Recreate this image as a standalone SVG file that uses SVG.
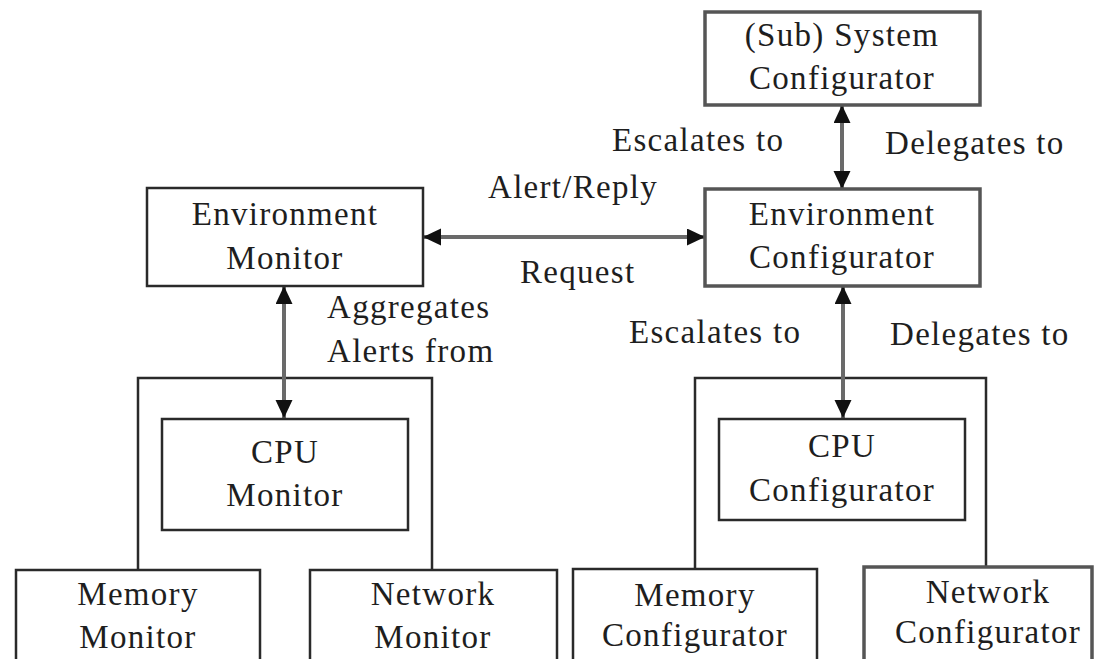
<svg xmlns="http://www.w3.org/2000/svg" width="1097" height="659" viewBox="0 0 1097 659">
  <style>
    .box { fill: #ffffff; stroke: #2a2a2a; stroke-width: 2.5; }
    .box.gray { stroke: #555555; stroke-width: 3.5; }
    .frame { fill: none; stroke: #2a2a2a; stroke-width: 2.5; }
    .link { fill: none; stroke: #6a6a6a; stroke-width: 4; marker-start: url(#head); marker-end: url(#head); }
    text { font-family: "Liberation Serif", "Times New Roman", serif; font-size: 33px; fill: #1e1e1e; letter-spacing: 1.3px; }
    .c { text-anchor: middle; }
  </style>
  <defs>
    <marker id="head" markerUnits="userSpaceOnUse" markerWidth="19" markerHeight="18" refX="18" refY="8.5" orient="auto-start-reverse">
      <path d="M0,0 L18,8.5 L0,17 Z" fill="#111111"/>
    </marker>
  </defs>
  <rect width="1097" height="659" fill="#ffffff"/>

  <!-- grouping frames around the per-resource components -->
  <g id="frames">
    <path class="frame" d="M138,570 V378 H432 V570"/>
    <path class="frame" d="M695,569 V378 H986 V567"/>
  </g>

  <g id="connectors">
    <line class="link" x1="423" y1="237" x2="705" y2="237"/>
    <line class="link" x1="842" y1="105" x2="842" y2="189"/>
    <line class="link" x1="284" y1="286" x2="284" y2="418"/>
    <line class="link" x1="843" y1="286" x2="843" y2="418"/>
    <text x="488" y="198">Alert/Reply</text>
    <text x="520" y="283">Request</text>
    <text x="612" y="151">Escalates to</text>
    <text x="885" y="154">Delegates to</text>
    <text x="327" y="318">Aggregates</text>
    <text x="327" y="362">Alerts from</text>
    <text x="629" y="343">Escalates to</text>
    <text x="890" y="345">Delegates to</text>
  </g>

  <g id="subsystem-configurator">
    <rect class="box gray" x="705" y="12" width="275" height="93"/>
    <text class="c" x="842" y="46">(Sub) System</text>
    <text class="c" x="842" y="89">Configurator</text>
  </g>

  <g id="environment-monitor">
    <rect class="box" x="147" y="188" width="276" height="98"/>
    <text class="c" x="285" y="225">Environment</text>
    <text class="c" x="285" y="269">Monitor</text>
  </g>

  <g id="environment-configurator">
    <rect class="box gray" x="705" y="189" width="275" height="97"/>
    <text class="c" x="842" y="225">Environment</text>
    <text class="c" x="842" y="268">Configurator</text>
  </g>

  <g id="cpu-monitor">
    <rect class="box" x="162" y="419" width="246" height="111"/>
    <text class="c" x="285" y="463">CPU</text>
    <text class="c" x="285" y="506">Monitor</text>
  </g>

  <g id="cpu-configurator">
    <rect class="box" x="719" y="419" width="246" height="101"/>
    <text class="c" x="842" y="457">CPU</text>
    <text class="c" x="842" y="501">Configurator</text>
  </g>

  <g id="memory-monitor">
    <rect class="box" x="16" y="570" width="244" height="120"/>
    <text class="c" x="138" y="605">Memory</text>
    <text class="c" x="138" y="648">Monitor</text>
  </g>

  <g id="network-monitor">
    <rect class="box" x="310" y="570" width="247" height="120"/>
    <text class="c" x="433" y="605">Network</text>
    <text class="c" x="433" y="648">Monitor</text>
  </g>

  <g id="memory-configurator">
    <rect class="box" x="573" y="569" width="244" height="120"/>
    <text class="c" x="695" y="606">Memory</text>
    <text class="c" x="695" y="646">Configurator</text>
  </g>

  <g id="network-configurator">
    <rect class="box gray" x="864" y="567" width="228" height="120"/>
    <text class="c" x="988" y="603">Network</text>
    <text class="c" x="988" y="643">Configurator</text>
  </g>
</svg>
